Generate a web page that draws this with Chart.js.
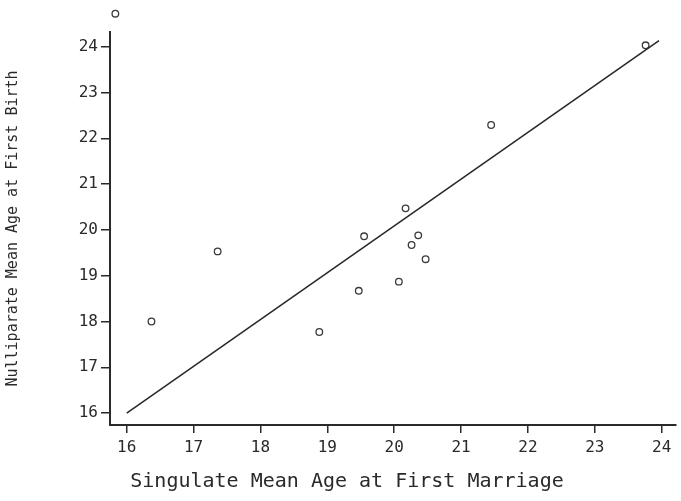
<!DOCTYPE html>
<html>
<head>
<meta charset="utf-8">
<script src="https://cdn.jsdelivr.net/npm/chart.js@4"></script>
<style>
  body { margin: 0; background: #fff; }
  #wrap { width: 681px; height: 501px; }
</style>
</head>
<body>
<div id="wrap"><canvas id="myChart" width="681" height="501"></canvas></div>
<script>
// country points: singulate mean age at first marriage vs nulliparate mean age at first birth
var marriageAge = [15.83, 16.37, 17.36, 18.88, 19.47, 19.55, 20.07, 20.17, 20.26, 20.36, 20.47, 21.45, 23.76]
var birthAge    = [24.72, 18.00, 19.53, 17.77, 18.67, 19.86, 18.87, 20.47, 19.67, 19.88, 19.36, 22.29, 24.03]

// fitted line ends
var fitX = [16.0, 23.96]
var fitY = [16.0, 24.13]

var axisTicks = [16, 17, 18, 19, 20, 21, 22, 23, 24]

var ink = '#2a2a2a'
var mono = 'DejaVu Sans Mono'

var points = []
for (i = 0; i < marriageAge.length; i++) {
  points.push({x: marriageAge[i], y: birthAge[i]})
}
var fit = []
for (i = 0; i < fitX.length; i++) {
  fit.push({x: fitX[i], y: fitY[i]})
}

function intTicks(scale) {
  scale.ticks = axisTicks.map(function (v) { return {value: v} })
}

// points above the axis box get skipped by the default draw, so draw them again without an area
var outliers = {
  id: 'outliers',
  afterDatasetsDraw: function (chart) {
    var meta = chart.getDatasetMeta(1)
    var a = chart.chartArea
    meta.data.forEach(function (el) {
      if (el.y < a.top || el.y > a.bottom || el.x < a.left || el.x > a.right) {
        el.draw(chart.ctx)
      }
    })
  }
}

// x axis title sits a little left of the axis centre
var xTitle = {
  id: 'xTitle',
  afterDraw: function (chart) {
    var c = chart.ctx
    c.save()
    c.fillStyle = ink
    c.font = '20px "' + mono + '"'
    c.textAlign = 'center'
    c.textBaseline = 'middle'
    c.fillText('Singulate Mean Age at First Marriage', 347, 482)
    c.restore()
  }
}

const ctx = document.getElementById('myChart')
new Chart(ctx, {
  type: 'scatter',
  data: {
    datasets: [
      {
        label: 'fit',
        type: 'line',
        data: fit,
        borderColor: ink,
        borderWidth: 1.6,
        pointRadius: 0,
        fill: false
      },
      {
        label: 'countries',
        data: points,
        clip: false,
        pointStyle: 'circle',
        pointRadius: 3.3,
        borderWidth: 1.3,
        borderColor: '#3a3a3a',
        backgroundColor: 'rgba(0,0,0,0)'
      }
    ]
  },
  plugins: [outliers, xTitle],
  options: {
    responsive: false,
    animation: false,
    layout: { padding: { top: 32, right: 3, left: 0, bottom: 0 } },
    plugins: {
      legend: { display: false },
      tooltip: { enabled: false }
    },
    scales: {
      x: {
        type: 'linear',
        min: 15.75,
        max: 24.21,
        afterBuildTicks: intTicks,
        afterFit: function (s) { s.height = 76 },
        border: { display: true, color: ink, width: 2 },
        grid: { drawOnChartArea: false, drawTicks: true, tickLength: 8, color: ink, lineWidth: 1.5 },
        ticks: { color: ink, padding: 5, font: { family: mono, size: 16 } }
      },
      y: {
        type: 'linear',
        min: 15.74,
        max: 24.32,
        afterBuildTicks: intTicks,
        afterFit: function (s) { s.width = 110 },
        border: { display: true, color: ink, width: 2 },
        grid: { drawOnChartArea: false, drawTicks: true, tickLength: 9, color: ink, lineWidth: 1.5 },
        ticks: { color: ink, padding: 3, font: { family: mono, size: 16 } },
        title: {
          display: true,
          text: 'Nulliparate Mean Age at First Birth',
          color: ink,
          padding: { top: 4, bottom: 0 },
          font: { family: mono, size: 15 }
        }
      }
    }
  }
})
</script>
</body>
</html>
